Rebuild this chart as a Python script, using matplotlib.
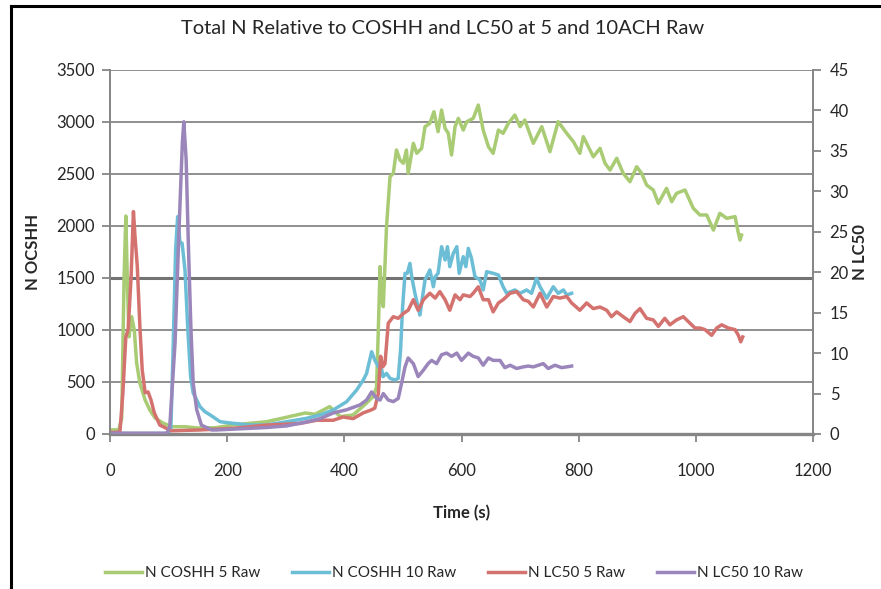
import matplotlib
matplotlib.use("Agg")
import matplotlib.pyplot as plt
from matplotlib.lines import Line2D

plt.rcParams['font.family'] = ['Lato', 'DejaVu Sans']

# ---- data -------------------------------------------------------------
# N COSHH, 5 ACH (left axis)
coshh5_t = [0, 15, 20, 24, 27, 30, 32.4, 37, 41.5, 45.5, 51, 60, 68, 77, 90, 105, 128, 150,
            180, 210, 267, 296, 333, 350, 375, 393, 415, 438, 449, 455, 458, 461, 463.7,
            466.5, 472, 478, 483.6, 489, 495, 500.7, 506, 509, 517.8, 523.6, 532, 537.7,
            546, 553, 560, 566, 572, 577.5, 583, 589, 594.6, 603, 609, 620, 628.7, 637,
            646, 654, 663, 671, 680, 691, 700, 708, 722.6, 737, 751, 765, 779.6, 791, 802,
            808, 816.5, 825, 836.5, 845, 853.5, 865, 876, 887.6, 899, 907.5, 916, 927.4,
            936, 950, 958.8, 967, 981.5, 995.7, 1007, 1018.6, 1030, 1041, 1052.7, 1067,
            1072.6, 1075.5, 1078]
coshh5_v = [40, 40, 150, 1500, 2096, 1385, 935, 1128, 1000, 682, 490, 327, 230, 154, 106, 70, 70, 58,
            60, 87, 118, 154, 202, 190, 263, 167, 183, 298, 359, 450, 1000, 1609, 1288,
            1224, 1993, 2474, 2506, 2731, 2634, 2603, 2731, 2506, 2795, 2699, 2747, 2955,
            2987, 3099, 2907, 3115, 2939, 2891, 2683, 2955, 3035, 2923, 3003, 3035, 3163, 2923,
            2762, 2699, 2923, 2891, 2987, 3067, 2955, 3019, 2795, 2955, 2715, 3003, 2891, 2811, 2699,
            2859, 2762, 2666, 2747, 2603, 2538, 2651, 2506, 2426, 2570, 2506, 2394, 2346,
            2218, 2362, 2234, 2314, 2346, 2170, 2106, 2106, 1961, 2122, 2074, 2090,
            1930, 1865, 1913]

# N COSHH, 10 ACH (left axis)
coshh10_t = [0, 100, 104, 108, 112, 115.5, 119.5, 123, 128, 132.6, 137.6, 142, 148, 153.6, 162,
             171, 188, 210, 239, 267, 301.6, 335.7, 358.5, 381, 404, 421, 432.4, 438, 446.6,
             452, 458, 463.7, 466, 472, 478, 486.5, 492, 496, 499.5, 503.6, 507.5, 512, 515,
             520.6, 529, 537.7, 546, 552, 555, 560, 566, 572, 576, 580, 586, 592, 596, 603,
             607.5, 611.6, 617, 623, 631.6, 637, 643, 654, 663, 671, 677, 691, 700, 711,
             719.6, 728, 734, 745.5, 756.7, 765, 774, 779.6, 788]
coshh10_v = [5, 5, 60, 875, 1769, 2090, 1836, 1836, 1577, 1032, 551, 394, 327, 263, 215,
             183, 118, 103, 87, 87, 118, 151, 183, 231, 311, 423, 519, 583, 791,
             711, 647, 620, 551, 583, 535, 519, 535, 808, 1224, 1545, 1545, 1641, 1512,
             1350, 1144, 1481, 1577, 1416, 1512, 1545, 1801, 1673, 1801, 1609, 1737, 1801, 1545, 1705,
             1609, 1785, 1690, 1512, 1481, 1385, 1561, 1545, 1529, 1416, 1353, 1385, 1353, 1385,
             1353, 1497, 1416, 1305, 1416, 1353, 1385, 1337, 1353]

# N LC50, 5 ACH (right axis)
lc5_t = [0, 10, 17, 22, 27, 31, 36, 40, 42.7, 46.6, 51, 55, 60, 65, 70, 75.7, 85, 105, 153.6,
         210, 267, 324, 353, 381, 398, 415, 432, 446.7, 452, 458, 462, 465.5, 469.4, 475,
         483.6, 492, 500.7, 509, 517.8, 526, 535, 546, 555, 563, 572, 580, 589, 597.5, 603,
         614.5, 620, 628.7, 637, 646, 654, 663, 671, 683, 694, 705.5, 714, 722.6, 734,
         745.5, 756.7, 768, 779.6, 788, 802, 813.6, 825, 836.5, 847.8, 856, 865, 876,
         887.6, 896, 904.7, 916, 927.4, 936, 947, 955.8, 967, 978.6, 990, 998.6, 1007,
         1015.7, 1027, 1035.6, 1044, 1055.5, 1067, 1072.6, 1076.6, 1080]
lc5_v = [0.2, 0.2, 0.3, 5.1, 12.0, 12.9, 19.4, 27.5, 24.4, 20.7, 13.3, 7.9, 5.1, 5.2, 4.2, 2.6, 1.1, 0.4, 0.5,
         0.7, 1.1, 1.3, 1.7, 1.7, 2.1, 1.9, 2.6, 3.0, 3.2, 5.0, 9.6, 8.3, 8.7, 13.7,
         14.5, 14.3, 14.9, 15.3, 16.6, 15.3, 16.6, 17.4, 16.8, 17.6, 16.6, 15.3, 17.2, 16.6, 17.2,
         17.0, 17.4, 18.2, 16.6, 16.6, 15.1, 16.2, 16.6, 17.4, 17.6, 16.6, 16.4, 15.7, 17.4,
         15.7, 17.0, 16.8, 17.0, 16.2, 15.3, 16.2, 15.5, 15.7, 15.3, 14.5, 15.1, 14.5,
         13.9, 14.9, 15.5, 14.3, 14.1, 13.3, 14.3, 13.5, 14.1, 14.5, 13.7, 13.1, 13.1,
         12.9, 12.2, 13.1, 13.5, 13.1, 12.9, 12.2, 11.4, 12.0]

# N LC50, 10 ACH (right axis)
lc10_t = [0, 97, 102, 111, 118, 123.5, 126, 130, 133.7, 138, 142, 148, 156, 173.6, 182, 210,
          267, 301.6, 335.7, 358.5, 381, 404, 426.8, 438, 446.6, 455, 461, 466.5, 475, 483.6,
          492, 497.8, 503.6, 509, 517.8, 526, 535, 543, 549, 557.5, 566, 574.6, 583, 592,
          600, 611.6, 620, 628.7, 637, 646, 654, 665.8, 674, 683, 694, 705.5, 714, 722.6,
          739.6, 748, 759.6, 771, 779.6, 788]
lc10_v = [0.1, 0.1, 0.9, 11.2, 25.6, 36.0, 38.6, 33.9, 23.6, 13.3, 6.3, 3.0, 1.1, 0.5, 0.5, 0.6,
          0.8, 1.0, 1.5, 1.9, 2.6, 3.0, 3.6, 4.2, 5.2, 4.4, 4.2, 5.0, 4.2, 4.0,
          4.4, 6.3, 8.3, 9.4, 8.7, 7.1, 7.9, 8.7, 9.1, 8.7, 9.8, 10.0, 9.6, 10.0,
          9.1, 10.0, 9.6, 9.4, 8.5, 9.4, 9.1, 9.1, 8.2, 8.5, 8.1, 8.3, 8.4, 8.3,
          8.7, 8.1, 8.5, 8.2, 8.3, 8.4]

series_labels = ["N COSHH 5 Raw", "N COSHH 10 Raw", "N LC50 5 Raw", "N LC50 10 Raw"]
colors = ["#A8CB74", "#6CBDD6", "#D4726F", "#9B86BB"]

x_ticks = [0, 200, 400, 600, 800, 1000, 1200]
left_ticks = [0, 500, 1000, 1500, 2000, 2500, 3000, 3500]
right_ticks = [0, 5, 10, 15, 20, 25, 30, 35, 40, 45]

# ---- figure -----------------------------------------------------------
axis_grey = "#868686"
text_col = "#262626"
W, H = 881, 589

fig = plt.figure(figsize=(8.81, 5.89), dpi=100)
fig.patch.set_facecolor("white")
ax = fig.add_axes([110 / W, 1 - 434 / H, (813 - 110) / W, (434 - 70) / H])
ax2 = ax.twinx()

ax.set_xlim(0, 1200)
ax.set_ylim(0, 3500)
ax2.set_ylim(0, 45)
ax.set_xticks(x_ticks)
ax.set_yticks(left_ticks)
ax2.set_yticks(right_ticks)

ax.grid(axis="y", color=axis_grey, linewidth=1.3)
for val, gl in zip(left_ticks, ax.yaxis.get_gridlines()):
    if val == 1500:
        gl.set_linewidth(2.2)
        gl.set_color("#737373")
ax.set_axisbelow(True)

l1, = ax.plot(coshh5_t, coshh5_v, color=colors[0], lw=2.5, solid_joinstyle="round")
l2, = ax.plot(coshh10_t, coshh10_v, color=colors[1], lw=2.5, solid_joinstyle="round")
l3, = ax2.plot(lc5_t, lc5_v, color=colors[2], lw=2.5, solid_joinstyle="round")
l4, = ax2.plot(lc10_t, lc10_v, color=colors[3], lw=2.5, solid_joinstyle="round")

for a in (ax, ax2):
    a.spines["top"].set_visible(False)
    for s in ("left", "right", "bottom"):
        a.spines[s].set_color(axis_grey)
        a.spines[s].set_linewidth(1.3)
ax.spines["bottom"].set_linewidth(2.4)
ax2.spines["bottom"].set_visible(False)

ax.tick_params(axis="both", direction="out", color=axis_grey, width=1.3, labelsize=12,
               labelcolor=text_col)
ax.tick_params(axis="y", length=6, pad=5)
ax.tick_params(axis="x", length=6, pad=15)
ax2.tick_params(axis="y", direction="out", color=axis_grey, width=1.3, length=6,
                labelsize=12, labelcolor=text_col, pad=6)

ax.set_xlabel("Time (s)", fontsize=12, fontweight="bold", color=text_col)
ax.xaxis.set_label_coords((462 - 110) / (813 - 110), (434 - 513) / (434 - 70))
ax.set_ylabel("N OCSHH", fontsize=12, fontweight="bold", color=text_col)
ax.yaxis.set_label_coords((33 - 110) / (813 - 110), 0.5)
ax2.set_ylabel("N LC50", fontsize=12, fontweight="bold", color=text_col, rotation=90)
ax2.yaxis.set_label_coords((860 - 110) / (813 - 110), 0.5)
for lab in (ax.xaxis.label, ax.yaxis.label, ax2.yaxis.label):
    lab.set_va("center")
    lab.set_ha("center")

fig.text(443 / W, 1 - 28 / H, "Total N Relative to COSHH and LC50 at 5 and 10ACH Raw",
         ha="center", va="center", fontsize=14.5, color=text_col)

fig.legend([l1, l2, l3, l4], series_labels, loc="center", ncol=4,
           bbox_to_anchor=(454 / W, 1 - 573 / H), frameon=False, fontsize=11,
           handlelength=2.4, handletextpad=0.2, columnspacing=2.1,
           labelcolor=text_col)

# outer chart border
fig.add_artist(Line2D([11 / W, 11 / W], [-0.02, 1 - 6 / H], transform=fig.transFigure,
                      color="black", lw=2.2))
fig.add_artist(Line2D([11 / W, 1.02], [1 - 6 / H, 1 - 6 / H], transform=fig.transFigure,
                      color="black", lw=2.2))

fig.savefig("out.png", dpi=100, facecolor="white")
